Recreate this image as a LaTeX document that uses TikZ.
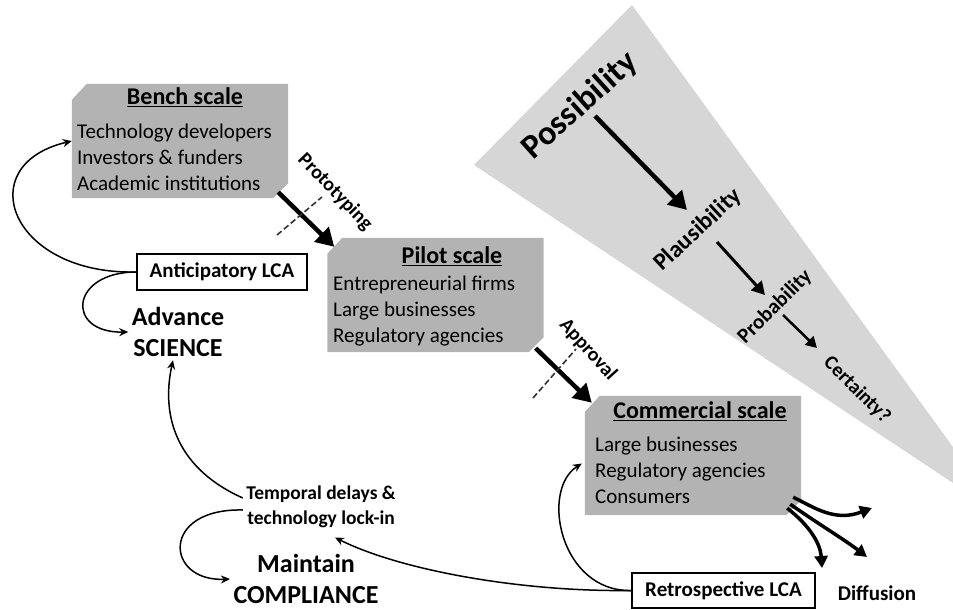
\documentclass[tikz,border=0pt]{standalone}
\usepackage{fontspec}
\setmainfont{Carlito}
\usetikzlibrary{arrows.meta}
\definecolor{wedgegray}{HTML}{D6D6D6}
\definecolor{stagegray}{HTML}{B3B3B3}

\begin{document}
\begin{tikzpicture}[x=1pt, y=-1pt,
	stage/.style={minimum width=216pt, minimum height=114pt, inner sep=0pt},
	stagetitle/.style={font=\fontsize{24}{28}\selectfont\bfseries},
	who/.style={font=\fontsize{21}{26}\selectfont, align=left, anchor=west, inner sep=0pt},
	lca/.style={draw, line width=1.3pt, fill=white, font=\fontsize{21}{24}\selectfont\bfseries, inner sep=0pt},
	goal/.style={font=\fontsize{26}{31}\selectfont\bfseries, align=center},
	tag/.style={font=\fontsize{20}{24}\selectfont\bfseries},
	link/.style={line width=1.5pt, -{Stealth[length=9pt,width=8pt]}},
	push/.style={line width=4.5pt, -{Triangle[length=18pt,width=20pt]}},
	spread/.style={line width=3.5pt, -{Triangle[length=12pt,width=13pt]}},
	gate/.style={line width=1.6pt, dash pattern=on 6pt off 3pt, black!80}]
	\useasboundingbox (0,0) rectangle (953,610);
	\fill[wedgegray] (632,5) -- (953,447) -- (953,483) -- (474,165) -- cycle;
	% the three scales
	\node[stage] (bench) at (180,141) {};
	\node[stage] (pilot) at (435.5,295) {};
	\node[stage, minimum height=119pt] (comm) at (693,455.5) {};
	\foreach \s in {bench,pilot,comm}
		\fill[stagegray] ([yshift=-16pt]\s.north west) -- ([xshift=15pt]\s.north west) -- (\s.north east) -- ([yshift=15pt]\s.south east) -- ([xshift=-15pt]\s.south east) -- (\s.south west) -- cycle;
	\node[stagetitle] (bench-t) at (185,97) {\underline{Bench scale}};
	\node[who] (bench-l) at (77,157) {Technology developers\\Investors \& funders\\Academic institutions};
	\node[stagetitle] (pilot-t) at (452,256) {\underline{Pilot scale}};
	\node[who] (pilot-l) at (333,311) {Entrepreneurial firms\\Large businesses\\Regulatory agencies};
	\node[stagetitle] (comm-t) at (700,411) {\underline{Commercial scale}};
	\node[who] (comm-l) at (595,470) {Large businesses\\Regulatory agencies\\Consumers};
	% certainty wedge
	\node[font=\fontsize{34}{40}\selectfont\bfseries, rotate=42] (possib) at (580,106) {Possibility};
	\node[font=\fontsize{24}{28}\selectfont\bfseries, rotate=43] (plaus) at (698,230) {Plausibility};
	\node[font=\fontsize{21}{24}\selectfont\bfseries, rotate=45] (prob) at (775,307) {Probability};
	\node[font=\fontsize{20}{24}\selectfont\bfseries, rotate=-45] (cert) at (857,390) {Certainty?};
	\draw[push] ([shift={(15,10)}]possib.center) -- ([shift={(-11,-20)}]plaus.center);
	\draw[line width=3pt, -{Triangle[length=13pt,width=14pt]}] ([shift={(19,12)}]plaus.center) -- ([shift={(-10,-12)}]prob.center);
	\draw[line width=2.5pt, -{Triangle[length=11pt,width=12pt]}] ([shift={(8,8)}]prob.center) -- ([shift={(-40,-42)}]cert.center);
	% stage gates
	\draw[push] ([shift={(-10,-6)}]bench.south east) -- ([shift={(7,9)}]pilot.north west);
	\draw[gate] (277,235) -- (322,197);
	\node[tag, rotate=-46] (proto-l) at (335,192) {Prototyping};
	\draw[push] ([shift={(-8,-4)}]pilot.south east) -- ([shift={(7,7)}]comm.north west);
	\draw[gate] (533,398) -- (576,349);
	\node[tag, rotate=-48] (appr-l) at (588,350) {Approval};
	% LCA boxes and feedback
	\node[lca, minimum width=170pt, minimum height=36pt] (ante) at (222,272) {Anticipatory LCA};
	\node[lca, minimum width=183pt, minimum height=35pt] (retro) at (723.5,590.5) {Retrospective LCA};
	\node[goal] (science) at (178,332) {Advance\\SCIENCE};
	\node[goal] (comply) at (306,579) {Maintain\\COMPLIANCE};
	\node[font=\fontsize{19.5}{25}\selectfont\bfseries, align=center] (lag) at (321,507) {Temporal delays \&\\technology lock-in};
	\node[font=\fontsize{21}{24}\selectfont\bfseries] (spread) at (877,593) {Diffusion};
	\draw[link] (ante.west) .. controls (10,275) and (-30,165) .. (bench.west);
	\draw[link] (ante.west) .. controls (70,272) and (65,333) .. (science.west);
	\draw[link] ([yshift=9pt]lag.west) .. controls (180,470) and (160,420) .. ([xshift=-5pt]science.south);
	\draw[link] ([yshift=-3pt]lag.west) .. controls (160,508) and (165,582) .. (comply.west);
	\draw[link] (retro.west) .. controls (520,592) and (400,570) .. ([shift={(14,6)}]lag.south);
	\draw[link] (retro.west) .. controls (560,592) and (540,490) .. ([shift={(-3,8)}]comm.west);
	% diffusion
	\coordinate (d1) at (872,508);
	\coordinate (d2) at (867,557);
	\coordinate (d3) at (822,568);
	\draw[spread] ([shift={(-8,-18)}]comm.south east) .. controls (815,508) and (835,522) .. (d1);
	\draw[spread] ([shift={(-11,-11)}]comm.south east) .. controls (820,525) and (845,540) .. (d2);
	\draw[spread] ([shift={(-14,-7)}]comm.south east) .. controls (805,522) and (820,540) .. (d3);
\end{tikzpicture}
\end{document}
